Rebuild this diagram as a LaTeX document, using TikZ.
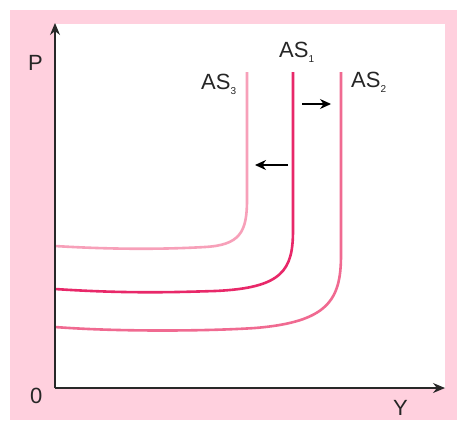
\documentclass[tikz,border=0pt]{standalone}
\usepackage{fontspec}
\setmainfont{Liberation Sans}
\usetikzlibrary{arrows.meta}
\definecolor{bgpink}{RGB}{255,208,222}
\definecolor{asthree}{RGB}{247,160,185}
\definecolor{asone}{RGB}{232,40,105}
\definecolor{astwo}{RGB}{240,106,145}
\definecolor{axisgray}{RGB}{40,40,40}
\tikzset{
  axisline/.style={draw=axisgray, line width=1.1pt, -{Stealth[length=12pt,width=10pt]}},
  shiftarrow/.style={draw=black, line width=1.1pt, -{Stealth[length=11pt,width=10pt]}},
  curve/.style={line width=2.6pt},
  lbl/.style={inner sep=0pt, font=\fontsize{22}{24}\selectfont, text=black!85},
}
\newcommand{\subx}[1]{\raisebox{-5pt}{\fontsize{10}{11}\selectfont #1}}
\begin{document}
\begin{tikzpicture}[x=1pt,y=-1pt]
\useasboundingbox (0,0) rectangle (457,421);
\fill[bgpink] (10,10) rectangle (457,420);
\fill[white] (55,24) rectangle (445,388);
% curves
\draw[curve, asthree] (55,246) .. controls (120,250) and (170,249) .. (205,247)
   .. controls (240,245) and (247,232) .. (247,200) -- (247,72);
\draw[curve, asone] (55,289) .. controls (130,294) and (180,292) .. (215,291)
   .. controls (283,288) and (293,270) .. (293,230) -- (293,72);
\draw[curve, astwo] (55,327) .. controls (120,332) and (210,331) .. (255,328)
   .. controls (328,322) and (341,300) .. (341,255) -- (341,72);
% axes
\coordinate (O) at (55,388);
\coordinate (Ptip) at (55,23);
\coordinate (Ytip) at (445,388);
\draw[axisline] (O) -- (Ptip);
\draw[axisline] (O) -- (Ytip);
% shift arrows
\coordinate (r1) at (302,104);
\coordinate (r2) at (331,104);
\coordinate (l1) at (288,165);
\coordinate (l2) at (255,165);
\draw[shiftarrow] (r1) -- (r2);
\draw[shiftarrow] (l1) -- (l2);
% labels
\node[lbl, anchor=west] (lP) at (28,63) {P};
\node[lbl, anchor=west] (l0) at (30,396) {0};
\node[lbl, anchor=west] (lY) at (393,408) {Y};
\node[lbl, anchor=west] (las3) at (201,84) {AS\subx{3}};
\node[lbl, anchor=west] (las1) at (279,52) {AS\subx{1}};
\node[lbl, anchor=west] (las2) at (351,82) {AS\subx{2}};
\end{tikzpicture}
\end{document}
